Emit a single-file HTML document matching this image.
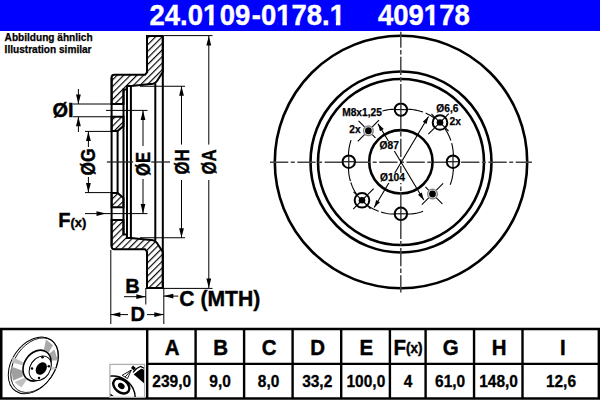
<!DOCTYPE html>
<html><head><meta charset="utf-8"><style>
html,body{margin:0;padding:0;background:#fff;}
body{width:600px;height:400px;overflow:hidden;position:relative;}
svg{position:absolute;left:0;top:0;font-family:"Liberation Sans",sans-serif;}
</style></head><body>
<svg width="600" height="400" viewBox="0 0 600 400">
<defs><pattern id="hatch" patternUnits="userSpaceOnUse" width="4.67" height="4.67" patternTransform="rotate(45)">
<line x1="0.6" y1="0" x2="0.6" y2="4.67" stroke="#000" stroke-width="1.15"/></pattern></defs>
<rect x="0" y="0" width="600" height="31" fill="#0000ff"/>
<text transform="translate(149.5 24.7) scale(0.935 1)" font-size="29.4" font-weight="bold" fill="#fff" stroke="#fff" stroke-width="0.4">24.01<tspan dx="1.6">09</tspan><tspan dx="1.6">-0178.1</tspan></text>
<text transform="translate(378 24.7) scale(0.935 1)" font-size="29.4" font-weight="bold" fill="#fff" stroke="#fff" stroke-width="0.4">409178</text>
<g fill="#0000ff">
<rect x="204" y="21" width="5.1" height="5"/><rect x="213.6" y="21" width="5.4" height="5"/>
<rect x="277.3" y="21" width="5.1" height="5"/><rect x="286.9" y="21" width="5.4" height="5"/>
<rect x="330.8" y="21" width="5.1" height="5"/><rect x="340.4" y="21" width="5.4" height="5"/>
<rect x="424.9" y="21" width="5.1" height="5"/><rect x="434.5" y="21" width="5.4" height="5"/>
</g>
<text x="4.6" y="41.2" font-size="10.1" font-weight="bold" stroke="#000" stroke-width="0.25">Abbildung ähnlich</text>
<text x="4.6" y="53.2" font-size="10.1" font-weight="bold" stroke="#000" stroke-width="0.25">Illustration similar</text>
<path d="M147,36 L162.8,36 L162.8,72 L157,81 Q155.5,83.3 153,83.7 L131,86 L127,86 L127,89.5 L123.5,89.5 L123.5,104 L111.6,104 L111.6,77.5 Q111.6,74.8 114.3,74.8 L145,74.8 L147,72.5 Z" fill="url(#hatch)" stroke="#000" stroke-width="2" stroke-linejoin="miter"/>
<path d="M111.6,116.75 L123.5,116.75 L123.5,126 L117.6,131 L111.6,131 Z" fill="url(#hatch)" stroke="#000" stroke-width="2" stroke-linejoin="miter"/>
<path d="M147.00,288.00 L162.80,288.00 L162.80,252.00 L157.00,243.00 Q155.50,240.70 153.00,240.30 L131.00,238.00 L127.00,238.00 L127.00,234.50 L123.50,234.50 L123.50,220.00 L111.60,220.00 L111.60,246.50 Q111.60,249.20 114.30,249.20 L145.00,249.20 L147.00,251.50 Z" fill="url(#hatch)" stroke="#000" stroke-width="2" stroke-linejoin="miter"/>
<path d="M111.60,207.25 L123.50,207.25 L123.50,198.00 L117.60,193.00 L111.60,193.00 Z" fill="url(#hatch)" stroke="#000" stroke-width="2" stroke-linejoin="miter"/>
<line x1="117.60" y1="131.00" x2="117.60" y2="193.00" stroke="#000" stroke-width="2" />
<line x1="123.50" y1="89.50" x2="123.50" y2="234.50" stroke="#000" stroke-width="2" />
<line x1="127.00" y1="86.00" x2="127.00" y2="238.00" stroke="#000" stroke-width="2" />
<line x1="130.90" y1="86.00" x2="130.90" y2="238.00" stroke="#000" stroke-width="2" />
<line x1="111.60" y1="77.50" x2="111.60" y2="246.50" stroke="#000" stroke-width="2" />
<line x1="155.30" y1="83.50" x2="155.30" y2="240.50" stroke="#000" stroke-width="2" />
<line x1="162.80" y1="36.00" x2="162.80" y2="288.00" stroke="#000" stroke-width="2" />
<line x1="164.00" y1="35.60" x2="212.50" y2="35.60" stroke="#000" stroke-width="1" />
<line x1="164.00" y1="288.40" x2="212.50" y2="288.40" stroke="#000" stroke-width="1" />
<line x1="208.80" y1="36.00" x2="208.80" y2="144.60" stroke="#000" stroke-width="1" />
<line x1="208.80" y1="180.00" x2="208.80" y2="288.00" stroke="#000" stroke-width="1" />
<polygon points="208.80,36.00 211.20,45.50 206.40,45.50" fill="#000"/>
<polygon points="208.80,288.00 206.40,278.50 211.20,278.50" fill="#000"/>
<line x1="140.00" y1="86.25" x2="185.00" y2="86.25" stroke="#000" stroke-width="1" />
<line x1="140.00" y1="237.75" x2="185.00" y2="237.75" stroke="#000" stroke-width="1" />
<line x1="181.50" y1="86.25" x2="181.50" y2="144.60" stroke="#000" stroke-width="1" />
<line x1="181.50" y1="180.00" x2="181.50" y2="237.75" stroke="#000" stroke-width="1" />
<polygon points="181.50,86.25 183.90,95.75 179.10,95.75" fill="#000"/>
<polygon points="181.50,237.75 179.10,228.25 183.90,228.25" fill="#000"/>
<line x1="106.00" y1="110.40" x2="147.50" y2="110.40" stroke="#000" stroke-width="1" />
<line x1="106.00" y1="213.60" x2="147.50" y2="213.60" stroke="#000" stroke-width="1" />
<line x1="143.00" y1="110.40" x2="143.00" y2="146.00" stroke="#000" stroke-width="1" />
<line x1="143.00" y1="179.00" x2="143.00" y2="213.60" stroke="#000" stroke-width="1" />
<polygon points="143.00,110.40 145.40,119.90 140.60,119.90" fill="#000"/>
<polygon points="143.00,213.60 140.60,204.10 145.40,204.10" fill="#000"/>
<line x1="73.00" y1="104.00" x2="111.60" y2="104.00" stroke="#000" stroke-width="1" />
<line x1="73.00" y1="116.75" x2="111.60" y2="116.75" stroke="#000" stroke-width="1" />
<line x1="78.40" y1="89.00" x2="78.40" y2="104.00" stroke="#000" stroke-width="1" />
<polygon points="78.40,104.00 76.00,94.50 80.80,94.50" fill="#000"/>
<line x1="78.40" y1="116.75" x2="78.40" y2="132.00" stroke="#000" stroke-width="1" />
<polygon points="78.40,116.75 80.80,126.25 76.00,126.25" fill="#000"/>
<line x1="85.00" y1="131.40" x2="111.60" y2="131.40" stroke="#000" stroke-width="1" />
<line x1="85.00" y1="192.60" x2="111.60" y2="192.60" stroke="#000" stroke-width="1" />
<line x1="88.40" y1="131.40" x2="88.40" y2="147.00" stroke="#000" stroke-width="1" />
<line x1="88.40" y1="177.00" x2="88.40" y2="192.60" stroke="#000" stroke-width="1" />
<polygon points="88.40,131.40 90.80,140.90 86.00,140.90" fill="#000"/>
<polygon points="88.40,192.60 86.00,183.10 90.80,183.10" fill="#000"/>
<line x1="106.90" y1="162.00" x2="133.10" y2="162.00" stroke="#222" stroke-width="1.3" />
<line x1="151.25" y1="162.00" x2="170.00" y2="162.00" stroke="#222" stroke-width="1.3" />
<line x1="85.00" y1="213.60" x2="106.00" y2="213.60" stroke="#000" stroke-width="1" />
<polygon points="106.00,213.60 96.50,216.00 96.50,211.20" fill="#000"/>
<line x1="110.80" y1="250.00" x2="110.80" y2="324.00" stroke="#000" stroke-width="1" />
<line x1="145.80" y1="288.00" x2="145.80" y2="304.50" stroke="#000" stroke-width="1" />
<line x1="163.80" y1="288.00" x2="163.80" y2="324.00" stroke="#000" stroke-width="1" />
<line x1="124.00" y1="296.70" x2="145.80" y2="296.70" stroke="#000" stroke-width="1" />
<polygon points="145.80,296.70 136.30,299.10 136.30,294.30" fill="#000"/>
<line x1="163.80" y1="296.10" x2="178.30" y2="296.10" stroke="#000" stroke-width="1" />
<polygon points="163.80,296.10 173.30,293.70 173.30,298.50" fill="#000"/>
<line x1="110.80" y1="314.60" x2="128.00" y2="314.60" stroke="#000" stroke-width="1" />
<line x1="147.00" y1="314.60" x2="163.80" y2="314.60" stroke="#000" stroke-width="1" />
<polygon points="110.80,314.60 120.30,312.20 120.30,317.00" fill="#000"/>
<polygon points="163.80,314.60 154.30,317.00 154.30,312.20" fill="#000"/>
<text x="63" y="117" font-size="20" text-anchor="middle" font-weight="bold" stroke="#000" stroke-width="0.4">ØI</text>
<text transform="translate(95.4 162) rotate(-90) scale(0.87 1)" font-size="20" text-anchor="middle" font-weight="bold" stroke="#000" stroke-width="0.4">ØG</text>
<text transform="translate(150 164) rotate(-90) scale(0.83 1)" font-size="20" text-anchor="middle" font-weight="bold" stroke="#000" stroke-width="0.4">ØE</text>
<text transform="translate(189.2 162) rotate(-90) scale(0.84 1)" font-size="20" text-anchor="middle" font-weight="bold" stroke="#000" stroke-width="0.4">ØH</text>
<text transform="translate(216 162) rotate(-90) scale(0.84 1)" font-size="20" text-anchor="middle" font-weight="bold" stroke="#000" stroke-width="0.4">ØA</text>
<text x="58.3" y="226.5" font-size="20" font-weight="bold" stroke="#000" stroke-width="0.4">F<tspan font-size="13" dy="0">(x)</tspan></text>
<text x="132.4" y="293" font-size="20" text-anchor="middle" font-weight="bold" stroke="#000" stroke-width="0.4">B</text>
<text x="137.7" y="321" font-size="20" text-anchor="middle" font-weight="bold" stroke="#000" stroke-width="0.4">D</text>
<text transform="translate(179.3 305.7) rotate(0) scale(0.96 1)" font-size="22" text-anchor="start" font-weight="bold" stroke="#000" stroke-width="0.4">C (MTH)</text>
<circle cx="401.00" cy="162.00" r="126.2" fill="none" stroke="#000" stroke-width="2.6" />
<circle cx="401.00" cy="162.00" r="90.5" fill="none" stroke="#000" stroke-width="2.6" />
<circle cx="401.00" cy="162.00" r="83" fill="none" stroke="#000" stroke-width="2.6" />
<circle cx="400.90" cy="161.80" r="31.7" fill="none" stroke="#000" stroke-width="2.6" />
<line x1="270.00" y1="162.20" x2="532.00" y2="162.20" stroke="#444" stroke-width="1.5" stroke-dasharray="18.3,2.5,4,2.5"/>
<line x1="400.80" y1="31.70" x2="400.80" y2="292.50" stroke="#444" stroke-width="1.5" stroke-dasharray="18.3,2.2,4.5,2.3" stroke-dashoffset="2.2"/>
<polyline points="453.00,161.70 453.18,159.87 453.29,158.04 453.33,156.19 453.31,154.33 453.22,152.47 453.06,150.61 452.82,148.76 452.51,146.90 452.13,145.06 451.67,143.22" fill="none" stroke="#000" stroke-width="1.1"/>
<polyline points="450.84,140.50 450.20,138.71 449.48,136.95 448.69,135.21 447.83,133.50 446.89,131.83 445.89,130.20 444.81,128.61 443.67,127.07 442.46,125.57 441.19,124.13 439.86,122.74 438.47,121.41 437.03,120.14 435.53,118.93 433.99,117.79 432.40,116.71 430.77,115.71 429.10,114.77 427.39,113.91 425.65,113.12" fill="none" stroke="#000" stroke-width="1.1"/>
<polyline points="423.00,112.07 421.20,111.46 419.38,110.93 417.54,110.47 415.70,110.09 413.84,109.78 411.99,109.54 410.13,109.38 408.27,109.29 406.41,109.27 404.56,109.31 402.73,109.42 400.90,109.60 399.07,109.42 397.24,109.31 395.39,109.27 393.53,109.29 391.67,109.38 389.81,109.54 387.96,109.78 386.10,110.09 384.26,110.47 382.42,110.93" fill="none" stroke="#000" stroke-width="1.1"/>
<polyline points="351.08,140.14 350.49,141.96 349.98,143.80 349.54,145.66 349.18,147.52 348.89,149.40 348.68,151.27 348.54,153.15 348.47,155.03 348.47,156.90 348.55,158.76 348.69,160.61 348.72,162.45 348.57,164.29 348.48,166.15 348.47,168.02 348.52,169.89 348.65,171.77 348.85,173.65 349.12,175.52 349.47,177.39 349.89,179.25 350.39,181.09" fill="none" stroke="#000" stroke-width="1.1"/>
<polyline points="350.81,182.45 351.45,184.30 352.18,186.13 352.98,187.93 353.87,189.70 354.83,191.43 355.86,193.12 356.97,194.76 358.15,196.36 359.40,197.90 360.72,199.39 362.10,200.82 363.54,202.19 365.04,203.49 366.60,204.72 368.20,205.89 369.86,206.98 371.56,208.00 373.30,208.94 375.07,209.80 376.88,210.59 378.71,211.30" fill="none" stroke="#000" stroke-width="1.1"/>
<polyline points="381.06,212.08 382.94,212.61 384.84,213.06 386.75,213.43 388.67,213.72 390.60,213.93 392.52,214.07 394.44,214.13 396.36,214.12 398.26,214.04 400.15,213.88 402.04,213.92 403.94,214.06 405.84,214.13 407.76,214.12 409.68,214.05 411.61,213.89 413.53,213.66 415.45,213.36 417.36,212.97 419.25,212.50 421.14,211.96 423.00,211.33" fill="none" stroke="#000" stroke-width="1.1"/>
<polyline points="450.20,184.69 450.87,182.83 451.46,180.94 451.96,179.03 452.39,177.12 452.74,175.19 453.00,173.25 453.19,171.31 453.30,169.38 453.34,167.44 453.30,165.52 453.18,163.60 453.00,161.70" fill="none" stroke="#000" stroke-width="1.1"/>
<circle cx="453.00" cy="161.70" r="6.2" fill="#fff" stroke="#000" stroke-width="2"/>
<line x1="453.00" y1="155.50" x2="453.00" y2="167.90" stroke="#000" stroke-width="1.1" />
<line x1="446.80" y1="161.70" x2="459.20" y2="161.70" stroke="#222" stroke-width="1.3" />
<circle cx="400.90" cy="109.60" r="6.2" fill="#fff" stroke="#000" stroke-width="2"/>
<line x1="394.70" y1="109.60" x2="407.10" y2="109.60" stroke="#000" stroke-width="1.1" />
<line x1="400.90" y1="103.40" x2="400.90" y2="115.80" stroke="#222" stroke-width="1.3" />
<circle cx="348.80" cy="161.70" r="6.2" fill="#fff" stroke="#000" stroke-width="2"/>
<line x1="348.80" y1="155.50" x2="348.80" y2="167.90" stroke="#000" stroke-width="1.1" />
<line x1="342.60" y1="161.70" x2="355.00" y2="161.70" stroke="#222" stroke-width="1.3" />
<circle cx="400.90" cy="213.80" r="6.2" fill="#fff" stroke="#000" stroke-width="2"/>
<line x1="394.70" y1="213.80" x2="407.10" y2="213.80" stroke="#000" stroke-width="1.1" />
<line x1="400.90" y1="207.60" x2="400.90" y2="220.00" stroke="#222" stroke-width="1.3" />
<circle cx="440" cy="122.5" r="7.3" fill="#fff" stroke="#000" stroke-width="2"/>
<circle cx="440" cy="122.5" r="3.3" fill="#000"/>
<line x1="435.05" y1="127.45" x2="444.95" y2="117.55" stroke="#000" stroke-width="1.1" />
<line x1="435.05" y1="117.55" x2="444.95" y2="127.45" stroke="#000" stroke-width="1.1" />
<line x1="445.66" y1="116.84" x2="448.77" y2="113.73" stroke="#000" stroke-width="1.1" />
<line x1="434.34" y1="128.16" x2="428.33" y2="134.17" stroke="#000" stroke-width="1.1" />
<line x1="445.66" y1="128.16" x2="448.49" y2="130.99" stroke="#000" stroke-width="1.1" />
<line x1="434.34" y1="116.84" x2="431.51" y2="114.01" stroke="#000" stroke-width="1.1" />
<circle cx="362" cy="200.3" r="7.3" fill="#fff" stroke="#000" stroke-width="2"/>
<circle cx="362" cy="200.3" r="3.3" fill="#000"/>
<line x1="366.95" y1="195.35" x2="357.05" y2="205.25" stroke="#000" stroke-width="1.1" />
<line x1="366.95" y1="205.25" x2="357.05" y2="195.35" stroke="#000" stroke-width="1.1" />
<line x1="356.34" y1="205.96" x2="353.23" y2="209.07" stroke="#000" stroke-width="1.1" />
<line x1="367.66" y1="194.64" x2="373.67" y2="188.63" stroke="#000" stroke-width="1.1" />
<line x1="356.34" y1="194.64" x2="353.51" y2="191.81" stroke="#000" stroke-width="1.1" />
<line x1="367.66" y1="205.96" x2="370.49" y2="208.79" stroke="#000" stroke-width="1.1" />
<circle cx="368.4" cy="130.75" r="4.8" fill="#fff" stroke="#888" stroke-width="1.5"/>
<circle cx="368.4" cy="130.75" r="3.4" fill="#000"/>
<line x1="364.51" y1="126.86" x2="358.50" y2="120.85" stroke="#000" stroke-width="1.1" />
<line x1="372.29" y1="134.64" x2="375.47" y2="137.82" stroke="#000" stroke-width="1.1" />
<line x1="372.29" y1="126.86" x2="379.01" y2="120.14" stroke="#000" stroke-width="1.1" />
<line x1="364.51" y1="134.64" x2="357.79" y2="141.36" stroke="#000" stroke-width="1.1" />
<circle cx="432.5" cy="194" r="4.8" fill="#fff" stroke="#888" stroke-width="1.5"/>
<circle cx="432.5" cy="194" r="3.4" fill="#000"/>
<line x1="436.39" y1="197.89" x2="442.40" y2="203.90" stroke="#000" stroke-width="1.1" />
<line x1="428.61" y1="190.11" x2="425.43" y2="186.93" stroke="#000" stroke-width="1.1" />
<line x1="428.61" y1="197.89" x2="421.89" y2="204.61" stroke="#000" stroke-width="1.1" />
<line x1="436.39" y1="190.11" x2="443.11" y2="183.39" stroke="#000" stroke-width="1.1" />
<line x1="378.00" y1="123.75" x2="423.75" y2="200.00" stroke="#000" stroke-width="1.1" />
<polygon points="378.00,123.75 383.75,129.05 379.97,131.31" fill="#000"/>
<polygon points="423.75,200.00 418.00,194.70 421.78,192.44" fill="#000"/>
<line x1="428.50" y1="116.50" x2="374.20" y2="207.50" stroke="#000" stroke-width="1.1" />
<polygon points="428.50,116.50 426.55,124.07 422.77,121.81" fill="#000"/>
<polygon points="374.20,207.50 376.15,199.93 379.93,202.19" fill="#000"/>
<rect x="379" y="141" width="20.5" height="10" fill="#fff"/>
<rect x="379.5" y="173" width="26.5" height="10" fill="#fff"/>
<text x="389.2" y="149.4" font-size="10.2" text-anchor="middle" font-weight="bold" stroke="#000" stroke-width="0.25">Ø87</text>
<text x="392.5" y="181.4" font-size="10.2" text-anchor="middle" font-weight="bold" stroke="#000" stroke-width="0.25">Ø104</text>
<text x="362" y="116.3" font-size="10.2" text-anchor="middle" font-weight="bold" stroke="#000" stroke-width="0.25">M8x1,25</text>
<text x="355" y="133" font-size="10.2" text-anchor="middle" font-weight="bold" stroke="#000" stroke-width="0.25">2x</text>
<text x="447.4" y="112" font-size="10.2" text-anchor="middle" font-weight="bold" stroke="#000" stroke-width="0.25">Ø6,6</text>
<text x="455.2" y="125" font-size="10.2" text-anchor="middle" font-weight="bold" stroke="#000" stroke-width="0.25">2x</text>
<rect x="1.25" y="329" width="597.6" height="69.5" fill="none" stroke="#000" stroke-width="2.5"/>
<line x1="147.20" y1="363.80" x2="599.00" y2="363.80" stroke="#000" stroke-width="2.3" />
<line x1="147.20" y1="329.00" x2="147.20" y2="398.50" stroke="#000" stroke-width="2.4" />
<line x1="195.60" y1="329.00" x2="195.60" y2="398.50" stroke="#000" stroke-width="2.4" />
<line x1="244.10" y1="329.00" x2="244.10" y2="398.50" stroke="#000" stroke-width="2.4" />
<line x1="292.60" y1="329.00" x2="292.60" y2="398.50" stroke="#000" stroke-width="2.4" />
<line x1="341.20" y1="329.00" x2="341.20" y2="398.50" stroke="#000" stroke-width="2.4" />
<line x1="389.90" y1="329.00" x2="389.90" y2="398.50" stroke="#000" stroke-width="2.4" />
<line x1="425.60" y1="329.00" x2="425.60" y2="398.50" stroke="#000" stroke-width="2.4" />
<line x1="474.05" y1="329.00" x2="474.05" y2="398.50" stroke="#000" stroke-width="2.4" />
<line x1="522.50" y1="329.00" x2="522.50" y2="398.50" stroke="#000" stroke-width="2.4" />
<text transform="translate(172.2 354.7) rotate(0) scale(0.93 1)" font-size="22" text-anchor="middle" font-weight="bold" stroke="#000" stroke-width="0.45">A</text>
<text transform="translate(171.7 386.8) rotate(0) scale(0.94 1)" font-size="16.5" text-anchor="middle" font-weight="bold" stroke="#000" stroke-width="0.3">239,0</text>
<text transform="translate(220.65 354.7) rotate(0) scale(0.93 1)" font-size="22" text-anchor="middle" font-weight="bold" stroke="#000" stroke-width="0.45">B</text>
<text transform="translate(220.15 386.8) rotate(0) scale(0.94 1)" font-size="16.5" text-anchor="middle" font-weight="bold" stroke="#000" stroke-width="0.3">9,0</text>
<text transform="translate(269.15000000000003 354.7) rotate(0) scale(0.93 1)" font-size="22" text-anchor="middle" font-weight="bold" stroke="#000" stroke-width="0.45">C</text>
<text transform="translate(268.65000000000003 386.8) rotate(0) scale(0.94 1)" font-size="16.5" text-anchor="middle" font-weight="bold" stroke="#000" stroke-width="0.3">8,0</text>
<text transform="translate(317.7 354.7) rotate(0) scale(0.93 1)" font-size="22" text-anchor="middle" font-weight="bold" stroke="#000" stroke-width="0.45">D</text>
<text transform="translate(317.2 386.8) rotate(0) scale(0.94 1)" font-size="16.5" text-anchor="middle" font-weight="bold" stroke="#000" stroke-width="0.3">33,2</text>
<text transform="translate(366.34999999999997 354.7) rotate(0) scale(0.93 1)" font-size="22" text-anchor="middle" font-weight="bold" stroke="#000" stroke-width="0.45">E</text>
<text transform="translate(365.84999999999997 386.8) rotate(0) scale(0.94 1)" font-size="16.5" text-anchor="middle" font-weight="bold" stroke="#000" stroke-width="0.3">100,0</text>
<text transform="translate(408.05 354.7) scale(0.93 1)" font-size="22" font-weight="bold" text-anchor="middle" stroke="#000" stroke-width="0.45">F<tspan font-size="14.5" dy="-1.5">(x)</tspan></text>
<text transform="translate(408.05 386.8) rotate(0) scale(0.94 1)" font-size="16.5" text-anchor="middle" font-weight="bold" stroke="#000" stroke-width="0.3">4</text>
<text transform="translate(450.62500000000006 354.7) rotate(0) scale(0.93 1)" font-size="22" text-anchor="middle" font-weight="bold" stroke="#000" stroke-width="0.45">G</text>
<text transform="translate(450.12500000000006 386.8) rotate(0) scale(0.94 1)" font-size="16.5" text-anchor="middle" font-weight="bold" stroke="#000" stroke-width="0.3">61,0</text>
<text transform="translate(499.075 354.7) rotate(0) scale(0.93 1)" font-size="22" text-anchor="middle" font-weight="bold" stroke="#000" stroke-width="0.45">H</text>
<text transform="translate(498.575 386.8) rotate(0) scale(0.94 1)" font-size="16.5" text-anchor="middle" font-weight="bold" stroke="#000" stroke-width="0.3">148,0</text>
<text transform="translate(562.9499999999999 354.7) rotate(0) scale(0.93 1)" font-size="22" text-anchor="middle" font-weight="bold" stroke="#000" stroke-width="0.45">I</text>
<text transform="translate(560.9499999999999 386.8) rotate(0) scale(0.94 1)" font-size="16.5" text-anchor="middle" font-weight="bold" stroke="#000" stroke-width="0.3">12,6</text>
<g>
<ellipse cx="33.2" cy="365.4" rx="21.4" ry="31.1" transform="rotate(34.5 33.2 365.4)" fill="#fff" stroke="#000" stroke-width="1"/>
<ellipse cx="34.7" cy="365.2" rx="20.4" ry="30" transform="rotate(34.5 34.7 365.2)" fill="none" stroke="#000" stroke-width="0.8"/>
<path d="M12.3,356.8 L12.3,362.4 L22.1,365.2 L23.5,362.4 Z" fill="#c0c0c0"/>
<path d="M10.9,366.6 L13,380.6 L22.8,376.4 L22.8,370.8 Z" fill="#a0a0a0"/>
<path d="M14.4,382 L21.4,387.6 L26.3,380.6 L24.9,377.8 Z" fill="#c0c0c0"/>
<path d="M46,339.6 L53,345.2 L48.8,352.2 L43.9,349.4 Z" fill="#a8a8a8"/>
<path d="M54.4,349.4 L57.9,360.6 L51.6,360.6 L49.5,353.6 Z" fill="#a8a8a8"/>
<path d="M53,366.2 L56.5,369 L51,370 Z" fill="#c8c8c8"/>
<ellipse cx="37" cy="365.6" rx="12.6" ry="16.6" transform="rotate(34.5 37 365.6)" fill="#fff" stroke="#000" stroke-width="1.6"/>
<ellipse cx="40.2" cy="368.3" rx="10" ry="13.2" transform="rotate(34.5 40.2 368.3)" fill="#fff" stroke="#000" stroke-width="1"/>
<ellipse cx="41.3" cy="368.5" rx="5" ry="6.8" transform="rotate(34.5 41.3 368.5)" fill="#000"/>
<circle cx="42.5" cy="357.3" r="1.25" fill="#000"/><circle cx="48.8" cy="366.2" r="1.25" fill="#000"/>
<circle cx="32" cy="368.5" r="1.25" fill="#000"/><circle cx="39" cy="378" r="1.25" fill="#000"/>
</g>
<g>
<rect x="109.9" y="364.4" width="34.7" height="33" fill="#fff" stroke="#b0b0b0" stroke-width="1.3"/>
<clipPath id="sc"><rect x="110.5" y="365" width="33.5" height="32"/></clipPath>
<g clip-path="url(#sc)">
<ellipse cx="116" cy="394" rx="20" ry="17" transform="rotate(35 116 394)" fill="none" stroke="#000" stroke-width="1.4"/>
<ellipse cx="121.3" cy="386" rx="9" ry="6.3" transform="rotate(38 121.3 386)" fill="none" stroke="#000" stroke-width="2.4"/>
<ellipse cx="121.3" cy="386" rx="3.6" ry="2.7" transform="rotate(38 121.3 386)" fill="#000"/>
<path d="M109.9,393.3 L113.7,396 L109.9,396 Z" fill="#000"/>
<path d="M133.6,374.3 L141.2,368.6 L144.6,370 L144.6,383.8 Z" fill="#000"/>
<path d="M134.2,373 Q137.5,369.5 141.5,368" stroke="#fff" stroke-width="1.1" fill="none"/>
<path d="M133,372.5 Q136,368 140.5,366.5 L144.6,368.5" stroke="#000" stroke-width="1.2" fill="none"/>
<rect x="131.6" y="366.4" width="3.6" height="3.2" transform="rotate(40 133.4 368)" fill="#000"/>
<path d="M131.3,370 L122.2,375.3 L127.5,378.6 Z M131.3,370 L125.2,377" stroke="#000" stroke-width="0.9" fill="none"/>
</g></g>
</svg></body></html>
